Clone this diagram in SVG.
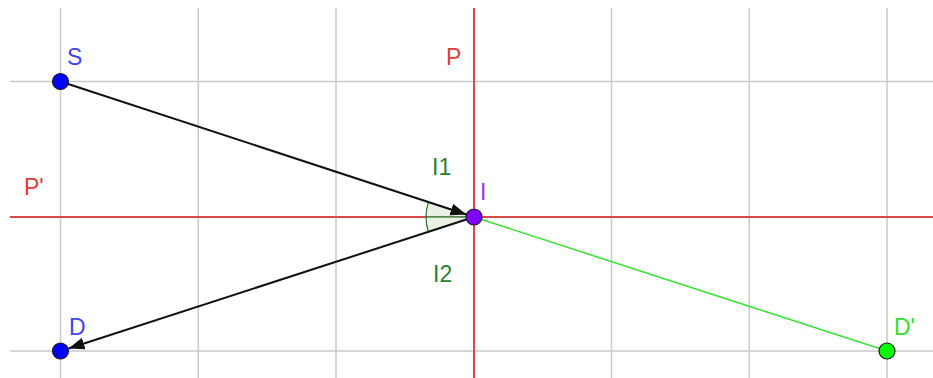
<svg xmlns="http://www.w3.org/2000/svg" width="933" height="378" viewBox="0 0 933 378">
<style>
.grid{stroke:#c9c9c9;stroke-width:1.5;fill:none}
.axis{stroke:#d84a4a;stroke-width:2;fill:none}
.ray{stroke:#111;stroke-width:2;fill:none}
.refl{stroke:#3fe03f;stroke-width:1.6;fill:none}
.sector{fill:#e4eedc;fill-opacity:0.8;stroke:#2f6e2f;stroke-width:1.2}
.pt{stroke:#1a1a1a;stroke-width:1.2}
.lbl{font-family:"Liberation Sans",Arial,sans-serif;font-size:23px}
</style>
<defs>
<marker id="ah" markerUnits="userSpaceOnUse" markerWidth="18" markerHeight="14" refX="16" refY="6" orient="auto">
<path d="M0,0 L16,6 L0,12 Z" fill="#111"/>
</marker>
</defs>
<rect width="933" height="378" fill="#fff"/>
<g id="grid">
<path class="grid" d="M60.5,8V378M198.3,8V378M336,8V378M611.5,8V378M749.3,8V378M887,8V378M10,81.5H933M10,351H933"/>
<path class="axis" d="M474,8V378M10,217H933"/>
</g>
<g id="angles">
<path class="sector" d="M474,217 L428.4,202.1 A48,48 0 0 0 426,217 Z"/>
<path class="sector" d="M474,217 L426,217 A48,48 0 0 0 428.4,231.9 Z"/>
</g>
<g id="connectors">
<line class="ray" x1="60.5" y1="81.5" x2="466.4" y2="214.5" marker-end="url(#ah)"/>
<line class="ray" x1="474" y1="217" x2="68.6" y2="348.5" marker-end="url(#ah)"/>
<line class="refl" x1="474" y1="217" x2="887" y2="351"/>
</g>
<g id="node-S">
<circle class="pt" cx="60.5" cy="81.5" r="8" fill="#0000ff"/>
<text class="lbl" x="67" y="65" fill="#4444e8">S</text>
</g>
<g id="node-D">
<circle class="pt" cx="60.5" cy="351" r="8" fill="#0000ff"/>
<text class="lbl" x="69" y="335" fill="#4444e8">D</text>
</g>
<g id="node-I">
<circle class="pt" cx="474" cy="217" r="8" fill="#8000ff"/>
<text class="lbl" x="480" y="200" fill="#9933ff">I</text>
</g>
<g id="node-Dp">
<circle class="pt" cx="887" cy="351" r="8" fill="#00ff00"/>
<text class="lbl" x="894" y="335" fill="#33dd33">D'</text>
</g>
<g id="label-P"><text class="lbl" x="446" y="65" fill="#e03c3c">P</text></g>
<g id="label-Pp"><text class="lbl" x="24" y="195" fill="#e03c3c">P'</text></g>
<g id="label-I1"><text class="lbl" x="432" y="175" fill="#2e7d32">I1</text></g>
<g id="label-I2"><text class="lbl" x="433" y="282" fill="#2e7d32">I2</text></g>
</svg>
